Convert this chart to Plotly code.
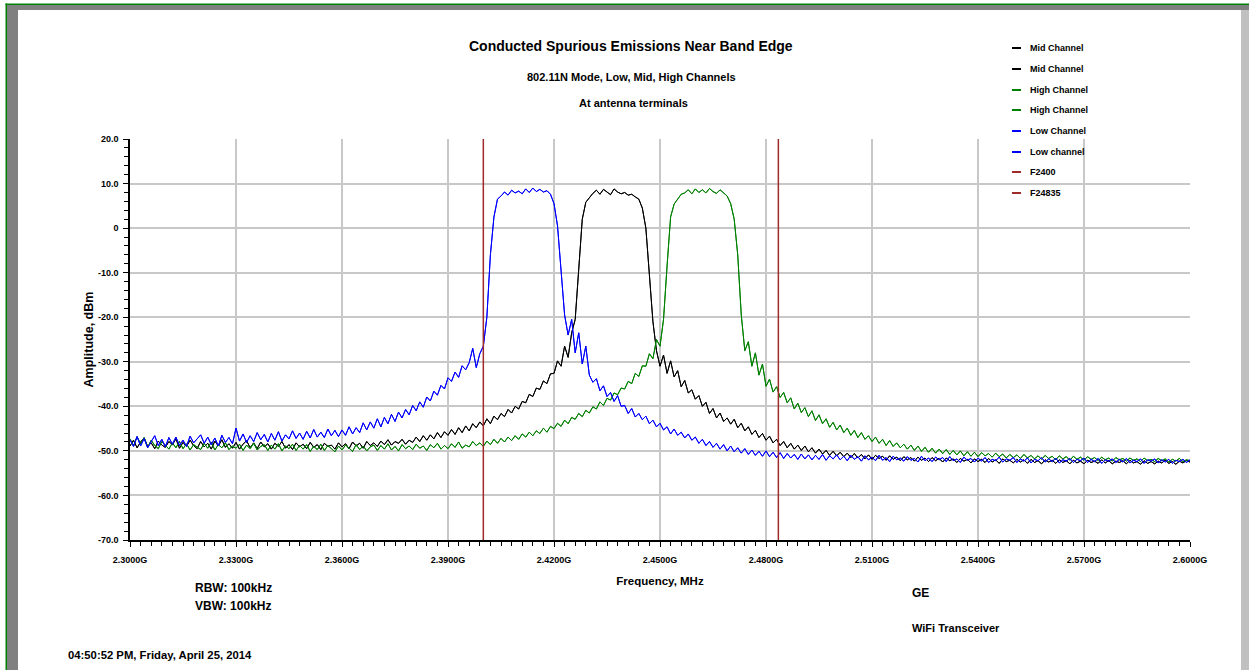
import plotly.graph_objects as go

# ---------------- data ----------------
FREQ_START_MHZ = 2300
FREQ_STEP_MHZ = 1

MID_DBM = [
    -48.9, -47.6, -49.3, -48.0, -47.1, -49.0, -48.2, -49.5, -47.8, -48.7,
    -49.2, -47.9, -48.6, -47.3, -49.4, -48.1, -49.0, -47.6, -48.8, -49.5,
    -47.9, -49.1, -48.3, -49.6, -47.8, -48.9, -47.5, -49.2, -48.4, -49.4,
    -48.1, -49.6, -48.5, -47.7, -49.3, -48.2, -49.5, -48.0, -49.1, -48.4,
    -49.6, -48.3, -49.0, -47.9, -49.4, -48.6, -49.7, -48.2, -49.1, -48.5,
    -49.5, -48.1, -49.2, -48.6, -49.7, -48.3, -49.0, -48.7, -49.6, -48.2,
    -49.1, -48.4, -49.5, -48.0, -48.9, -48.3, -49.4, -47.9, -48.8, -48.2,
    -49.0, -47.8, -48.6, -47.5, -48.7, -47.9, -48.3, -47.4, -48.5, -47.6,
    -48.1, -46.9, -47.9, -46.6, -47.6, -46.4, -47.3, -45.9, -47.0, -45.7,
    -46.5, -45.2, -46.3, -44.8, -45.9, -44.4, -45.5, -43.9, -44.8, -43.5,
    -44.4, -42.8, -43.9, -42.2, -43.0, -41.6, -42.3, -40.7, -41.5, -40.0,
    -40.6, -38.9, -39.2, -37.3, -37.8, -35.9, -36.2, -34.3, -34.9, -32.7,
    -32.6, -29.8, -31.0, -26.5, -29.0, -23.5, -20.5, -8.0, 2.0, 5.8,
    6.9, 7.8, 8.5, 7.6, 8.7, 8.0, 7.5, 8.8, 8.1, 7.7,
    8.0, 7.4, 7.6, 7.0, 6.5, 4.5, 0.0, -10.5, -21.0, -27.5,
    -31.0, -28.5, -32.6, -29.8, -33.4, -32.0, -35.6, -34.2, -37.0, -36.3,
    -38.4, -37.6, -40.0, -39.1, -41.6, -40.5, -42.6, -41.5, -43.4, -42.6,
    -44.0, -42.9, -44.8, -43.8, -45.5, -44.6, -46.3, -45.4, -47.0, -46.1,
    -47.6, -46.7, -48.2, -47.4, -48.8, -47.9, -49.3, -48.3, -49.6, -48.7,
    -49.9, -48.9, -50.2, -49.3, -50.5, -49.6, -50.7, -49.9, -51.0, -50.1,
    -51.1, -50.3, -51.3, -50.5, -51.5, -50.6, -51.6, -50.8, -51.8, -50.9,
    -51.9, -51.0, -51.7, -51.2, -52.1, -51.1, -51.9, -51.4, -52.2, -51.3,
    -52.0, -51.5, -52.3, -51.4, -52.1, -51.6, -52.4, -51.5, -52.2, -51.7,
    -52.5, -51.6, -52.2, -51.8, -52.6, -51.7, -52.3, -51.9, -52.7, -51.8,
    -52.4, -51.9, -52.6, -51.7, -52.5, -52.0, -52.8, -51.8, -52.4, -52.1,
    -52.7, -51.9, -52.5, -52.0, -52.8, -51.9, -52.6, -52.2, -52.9, -52.0,
    -52.5, -52.1, -52.8, -52.0, -52.6, -52.2, -52.9, -52.1, -52.7, -52.3,
    -52.9, -52.1, -52.6, -52.3, -52.8, -52.0, -52.7, -52.2, -52.9, -52.3,
    -52.6, -52.2, -52.9, -52.1, -52.7, -52.4, -53.0, -52.2, -52.8, -52.4,
    -52.9, -52.3, -52.7, -52.1, -52.8, -52.4, -53.0, -52.3, -52.7, -52.2,
    -52.5,
]

HIGH_DBM = [
    -47.3, -48.9, -46.8, -48.4, -47.0, -49.2, -47.6, -48.8, -49.5, -47.9,
    -48.7, -49.6, -48.2, -49.3, -47.9, -49.5, -48.4, -49.8, -48.6, -49.1,
    -49.7, -48.3, -49.4, -48.0, -49.8, -48.6, -49.3, -48.2, -49.7, -48.9,
    -49.4, -48.5, -49.9, -48.7, -49.5, -48.3, -49.8, -49.0, -48.6, -49.9,
    -48.7, -49.6, -48.4, -50.0, -48.9, -49.5, -48.5, -49.9, -48.8, -49.6,
    -48.6, -50.1, -49.0, -49.7, -48.5, -49.9, -48.8, -49.5, -50.2, -48.9,
    -49.8, -48.7, -49.4, -50.1, -48.6, -49.7, -48.9, -50.0, -49.1, -48.7,
    -49.9, -48.8, -49.6, -48.4, -49.8, -49.0, -50.0, -48.6, -49.5, -48.9,
    -49.7, -48.5, -49.4, -48.9, -49.9, -48.6, -49.3, -48.3, -49.6, -48.8,
    -49.5, -48.4, -49.2, -48.0, -49.4, -48.7, -49.1, -47.9, -48.8, -48.2,
    -49.0, -47.8, -48.6, -47.4, -48.3, -47.2, -48.0, -46.9, -47.7, -46.6,
    -47.4, -46.2, -46.9, -45.8, -46.6, -45.5, -46.1, -44.9, -45.8, -44.5,
    -45.0, -43.8, -44.5, -43.1, -43.9, -42.5, -42.9, -41.6, -42.3, -40.9,
    -41.5, -40.1, -40.6, -39.0, -39.8, -38.2, -38.6, -37.0, -37.4, -35.9,
    -36.1, -34.4, -34.9, -32.6, -33.3, -30.9, -31.0, -28.2, -29.3, -25.0,
    -26.5, -20.5, -8.5, 2.5, 5.4, 6.6, 7.6, 7.9, 8.6, 7.7,
    8.8, 8.0, 8.6, 7.9, 8.9, 8.2, 7.8, 8.6, 7.8, 7.2,
    5.5, 2.0, -6.0, -19.5, -27.5, -25.5, -31.0, -28.0, -33.0, -30.5,
    -35.5, -33.9, -36.8, -35.6, -38.0, -36.9, -39.2, -38.1, -40.6, -39.3,
    -41.4, -40.3, -42.3, -41.0, -43.2, -41.9, -43.9, -42.8, -44.7, -43.6,
    -45.3, -44.2, -45.9, -44.9, -46.5, -45.4, -47.0, -45.9, -47.4, -46.6,
    -47.9, -46.9, -48.3, -47.4, -48.8, -47.7, -49.0, -48.2, -49.3, -48.5,
    -49.6, -48.7, -49.9, -48.9, -50.1, -49.2, -50.3, -49.4, -50.5, -49.6,
    -50.6, -49.7, -50.8, -49.9, -50.9, -50.0, -51.1, -50.2, -51.2, -50.3,
    -51.3, -50.4, -51.1, -50.6, -51.4, -50.5, -51.3, -50.7, -51.6, -50.8,
    -51.5, -50.9, -51.7, -50.8, -51.6, -51.0, -51.8, -51.1, -51.9, -51.0,
    -51.7, -51.2, -52.0, -51.1, -51.8, -51.3, -52.1, -51.2, -51.9, -51.4,
    -52.1, -51.3, -51.9, -51.5, -52.2, -51.4, -52.0, -51.6, -52.3, -51.5,
    -52.0, -51.7, -52.3, -51.6, -52.1, -51.8, -52.4, -51.6, -52.2, -51.9,
    -52.4, -51.7, -52.2, -51.8, -52.5, -51.9, -52.3, -51.7, -52.4, -52.0,
    -52.2,
]

LOW_DBM = [
    -47.5, -49.0, -46.8, -48.9, -47.2, -49.3, -47.9, -46.6, -48.8, -47.4,
    -49.1, -47.0, -48.5, -46.9, -48.8, -47.6, -49.0, -46.7, -48.2, -47.3,
    -46.4, -48.3, -46.9, -48.6, -47.1, -48.9, -46.5, -48.1, -47.0, -48.4,
    -44.9, -47.8, -46.2, -48.1, -46.6, -47.9, -45.9, -47.5, -46.3, -48.0,
    -46.1, -47.6, -45.7, -47.8, -46.4, -47.3, -45.5, -47.2, -46.0, -47.4,
    -45.6, -47.1, -45.2, -46.9, -45.8, -47.0, -45.1, -46.6, -45.4, -46.8,
    -45.3, -46.5, -44.6, -46.2, -44.8, -45.9, -43.7, -45.3, -43.5, -44.9,
    -42.8, -44.6, -42.5, -43.9, -41.8, -43.4, -41.3, -42.6, -40.7, -41.9,
    -39.8, -41.0, -39.0, -40.2, -37.9, -38.8, -36.6, -37.5, -35.3, -36.1,
    -33.6, -34.4, -32.3, -33.5, -30.9, -31.8, -30.2, -27.0, -31.3, -28.2,
    -26.5, -20.0, -6.0, 2.5, 6.5, 7.2, 8.1, 7.4, 8.5, 7.9,
    8.3, 7.7, 8.8, 8.0, 9.0, 8.2, 8.7, 8.1, 8.4, 7.6,
    5.5, 0.5, -10.0, -19.5, -24.0, -20.5, -28.0, -23.5, -30.5, -26.5,
    -33.0, -34.6, -33.8, -36.5, -35.4, -37.8, -36.9, -38.9, -37.6, -40.0,
    -39.8, -41.6, -40.5, -42.4, -41.6, -43.0, -42.2, -43.9, -43.1, -44.6,
    -43.8, -45.3, -44.6, -46.2, -45.1, -46.5, -45.8, -47.1, -46.2, -47.6,
    -46.9, -48.3, -47.4, -48.8, -47.9, -49.2, -48.3, -49.6, -48.6, -50.0,
    -48.9, -50.2, -49.3, -50.5, -49.5, -50.8, -49.8, -51.0, -50.1, -51.2,
    -50.0, -51.3, -50.3, -51.5, -50.4, -51.7, -50.6, -51.6, -50.8, -51.9,
    -50.7, -51.8, -50.9, -52.0, -51.0, -51.9, -50.8, -52.1, -51.1, -51.8,
    -50.9, -52.0, -51.2, -52.2, -51.0, -51.9, -51.3, -52.3, -51.1, -52.0,
    -51.4, -52.2, -51.0, -52.1, -51.5, -52.4, -51.2, -52.0, -51.6, -52.3,
    -51.3, -52.1, -51.7, -52.5, -51.2, -52.2, -51.6, -52.4, -51.4, -52.0,
    -51.5, -52.4, -51.3, -52.2, -51.8, -52.6, -51.4, -52.1, -51.7, -52.5,
    -51.6, -52.3, -51.5, -52.6, -51.9, -52.2, -51.4, -52.5, -51.8, -52.1,
    -51.5, -52.6, -51.8, -52.3, -51.6, -52.7, -51.9, -52.2, -51.5, -52.5,
    -51.8, -52.4, -51.6, -52.7, -52.0, -52.3, -51.7, -52.6, -51.9, -52.2,
    -51.6, -52.6, -51.9, -52.4, -51.7, -52.8, -52.0, -52.3, -51.8, -52.6,
    -51.9, -52.5, -51.7, -52.7, -52.1, -52.4, -51.8, -52.8, -52.0, -52.3,
    -51.8, -52.7, -52.0, -52.5, -51.9, -52.8, -52.1, -52.4, -51.9, -52.6,
    -52.0,
]

F2400_MHZ = 2400.0
F24835_MHZ = 2483.5

X_TICKS = [2300, 2330, 2360, 2390, 2420, 2450, 2480, 2510, 2540, 2570, 2600]
X_TICK_LABELS = ["2.3000G", "2.3300G", "2.3600G", "2.3900G", "2.4200G", "2.4500G",
                 "2.4800G", "2.5100G", "2.5400G", "2.5700G", "2.6000G"]
Y_TICKS = [-70, -60, -50, -40, -30, -20, -10, 0, 10, 20]
Y_TICK_LABELS = ["-70.0", "-60.0", "-50.0", "-40.0", "-30.0", "-20.0", "-10.0", "0", "10.0", "20.0"]

X_RANGE = [2300, 2600]
Y_RANGE = [-70, 20]

# ---------------- layout helpers ----------------
W, H = 1249, 670
PL, PR, PT, PB = 130, 1190, 139, 540
FONT = "Liberation Sans, Arial, sans-serif"


def pxx(px):
    return (px - PL) / (PR - PL)


def pxy(py):
    return (PB - py) / (PB - PT)


def freqs(n):
    return [FREQ_START_MHZ + i * FREQ_STEP_MHZ for i in range(n)]


fig = go.Figure()

RED = "#9e2a2a"
series = [
    ("Mid Channel", MID_DBM, "#000000"),
    ("Mid Channel", MID_DBM, "#000000"),
    ("High Channel", HIGH_DBM, "#008000"),
    ("High Channel", HIGH_DBM, "#008000"),
    ("Low Channel", LOW_DBM, "#0000ff"),
    ("Low channel", LOW_DBM, "#0000ff"),
]
legend_items = []
for name, amp, col in series:
    fig.add_trace(go.Scatter(x=freqs(len(amp)), y=amp, mode="lines", name=name,
                             showlegend=False, line=dict(color=col, width=1)))
    legend_items.append((name, col))

for name, f in [("F2400", F2400_MHZ), ("F24835", F24835_MHZ)]:
    fig.add_trace(go.Scatter(x=[f, f], y=Y_RANGE, mode="lines", name=name,
                             showlegend=False, line=dict(color=RED, width=1.5)))
    legend_items.append((name, RED))

tickfont = dict(family=FONT, size=9, color="#000", weight="bold")

fig.update_layout(
    width=W, height=H,
    margin=dict(l=PL, r=W - PR, t=PT, b=H - PB, autoexpand=False),
    paper_bgcolor="white", plot_bgcolor="white",
    font=dict(family=FONT, color="#000"),
    showlegend=False,
    xaxis=dict(range=X_RANGE, tickmode="array", tickvals=X_TICKS, ticktext=X_TICK_LABELS,
               ticks="outside", ticklen=5, tickwidth=1, tickcolor="#000",
               tickfont=tickfont, ticklabelstandoff=5,
               minor=dict(tickmode="linear", tick0=2300, dtick=3, ticks="outside",
                          ticklen=4, tickwidth=1, tickcolor="#000", showgrid=False),
               showgrid=True, gridcolor="#c8c8c8", gridwidth=2,
               showline=True, linecolor="#000", linewidth=1.5, zeroline=False,
               title=dict(text="Frequency, MHz", standoff=13,
                          font=dict(family=FONT, size=11.5, color="#000", weight="bold"))),
    yaxis=dict(range=Y_RANGE, tickmode="array", tickvals=Y_TICKS, ticktext=Y_TICK_LABELS,
               ticks="outside", ticklen=5, tickwidth=1, tickcolor="#000",
               tickfont=tickfont, ticklabelstandoff=3,
               minor=dict(tickmode="linear", tick0=-70, dtick=2, ticks="outside",
                          ticklen=4, tickwidth=1, tickcolor="#000", showgrid=False),
               showgrid=True, gridcolor="#c8c8c8", gridwidth=2,
               showline=True, linecolor="#000", linewidth=1.5, zeroline=False,
               title=dict(text="Amplitude, dBm", standoff=2,
                          font=dict(family=FONT, size=12.5, color="#000", weight="bold"))),
    xaxis2=dict(range=X_RANGE, overlaying="x", anchor="y", side="bottom",
                tickmode="array", tickvals=X_TICKS, ticks="inside", ticklen=5,
                tickwidth=1, tickcolor="#000", showticklabels=False, showgrid=False,
                showline=False, zeroline=False,
                minor=dict(tickmode="linear", tick0=2300, dtick=3, ticks="inside",
                           ticklen=4, tickwidth=1, tickcolor="#000", showgrid=False)),
    yaxis2=dict(range=Y_RANGE, overlaying="y", anchor="x", side="left",
                tickmode="array", tickvals=Y_TICKS, ticks="inside", ticklen=5,
                tickwidth=1, tickcolor="#000", showticklabels=False, showgrid=False,
                showline=False, zeroline=False,
                minor=dict(tickmode="linear", tick0=-70, dtick=2, ticks="inside",
                           ticklen=4, tickwidth=1, tickcolor="#000", showgrid=False)),
)


def note(text, px, py, size, xanchor="center"):
    fig.add_annotation(text=text, x=pxx(px), y=pxy(py), xref="paper", yref="paper",
                       xanchor=xanchor, yanchor="middle", showarrow=False,
                       font=dict(family=FONT, size=size, color="#000", weight="bold"))


note("Conducted Spurious Emissions Near Band Edge", 631, 46, 14)
note("802.11N Mode, Low, Mid, High Channels", 631, 77, 11)
note("At antenna terminals", 633, 103, 11)
note("RBW: 100kHz", 193, 588, 12, "left")
note("VBW: 100kHz", 193, 606, 12, "left")
note("GE", 910, 593, 12, "left")
note("WiFi Transceiver", 910, 628, 11, "left")
note("04:50:52 PM, Friday, April 25, 2014", 66, 655, 11.3, "left")

# legend (drawn from the trace names / colours)
LEGEND_Y = [48, 69, 90, 110, 131, 152, 172, 193]
for (name, col), ly in zip(legend_items, LEGEND_Y):
    fig.add_shape(type="line", xref="paper", yref="paper",
                  x0=pxx(1012), x1=pxx(1021), y0=pxy(ly), y1=pxy(ly),
                  line=dict(color=col, width=2))
    note(name, 1028, ly, 9, "left")

# window frame (bevel)
frame = [
    (7, 18, 5, 670, "#808080"),
    (7, 1249, 5, 10, "#808080"),
    (1241, 1249, 10, 670, "#c0c0c0"),
    (5.5, 1249, 3.5, 5, "#008000"),
    (5.5, 7, 3.5, 670, "#008000"),
]
for x0, x1, y0, y1, col in frame:
    fig.add_shape(type="rect", xref="paper", yref="paper",
                  x0=pxx(x0), x1=pxx(x1), y0=pxy(y1), y1=pxy(y0),
                  fillcolor=col, line=dict(width=0), layer="above")

fig.write_html("out.html")
